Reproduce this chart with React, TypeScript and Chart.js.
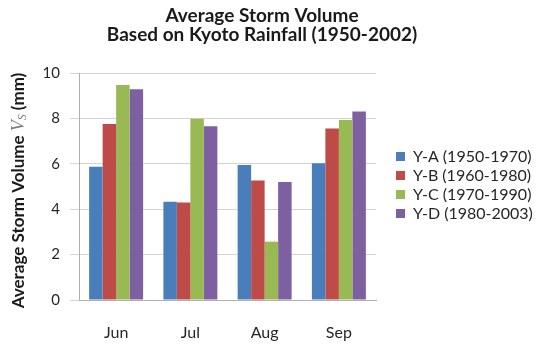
import React, { useEffect, useRef } from "react";
import { Chart, registerables } from "chart.js";

Chart.register(...registerables);

const months = ["Jun", "Jul", "Aug", "Sep"];
const seriesLabels = [
  "Y-A (1950-1970)",
  "Y-B (1960-1980)",
  "Y-C (1970-1990)",
  "Y-D (1980-2003)",
];
const valuesA = [5.87, 4.33, 5.95, 6.02];
const valuesB = [7.75, 4.3, 5.26, 7.56];
const valuesC = [9.47, 7.99, 2.57, 7.93];
const valuesD = [9.28, 7.65, 5.2, 8.3];
const seriesColors = ["#4a7ebb", "#be4b48", "#98b954", "#7d60a0"];
const titleLines = ["Average Storm Volume", "Based on Kyoto Rainfall (1950-2002)"];
const yMin = 0;
const yMax = 10;
const yStep = 2;

const FONT = "Lato, 'Open Sans', sans-serif";

const decorPlugin = {
  id: "decor",
  afterDraw(chart: any) {
    const { ctx, chartArea } = chart;
    // Y axis title with italic V and subscript S
    ctx.save();
    const cy = (chartArea.top + chartArea.bottom) / 2 + 4;
    ctx.translate(19, cy);
    ctx.rotate(-Math.PI / 2);
    ctx.textBaseline = "middle";
    ctx.textAlign = "left";
    const pieces = [
      { t: "Average Storm Volume ", f: `bold 17px ${FONT}`, c: "#1a1a1a", dy: 0 },
      { t: "V", f: "italic 18px 'Liberation Serif', serif", c: "#7a7a7a", dy: 0 },
      { t: "S", f: "italic 12px 'Liberation Serif', serif", c: "#7a7a7a", dy: 4 },
      { t: " (mm)", f: `bold 17px ${FONT}`, c: "#1a1a1a", dy: 0 },
    ];
    let total = 0;
    const widths = pieces.map((p) => {
      ctx.font = p.f;
      const w = ctx.measureText(p.t).width;
      total += w;
      return w;
    });
    let x = -total / 2;
    pieces.forEach((p, i) => {
      ctx.font = p.f;
      ctx.fillStyle = p.c;
      ctx.fillText(p.t, x, p.dy);
      x += widths[i];
    });
    ctx.restore();

    // Legend
    ctx.save();
    const rowGap = 19;
    const boxX = chartArea.right + 20;
    const midY = 185;
    const startY = midY - ((seriesLabels.length - 1) * rowGap) / 2;
    ctx.font = `16px ${FONT}`;
    ctx.textBaseline = "middle";
    ctx.textAlign = "left";
    seriesLabels.forEach((label, i) => {
      const y = startY + i * rowGap;
      ctx.fillStyle = seriesColors[i];
      ctx.fillRect(boxX, y - 4.5, 9, 9);
      ctx.fillStyle = "#262626";
      ctx.fillText(label, boxX + 17, y);
    });
    ctx.restore();
  },
};

export default function App() {
  const canvasRef = useRef<HTMLCanvasElement | null>(null);

  useEffect(() => {
    if (!canvasRef.current) return;
    const seriesValues = [valuesA, valuesB, valuesC, valuesD];
    const chart = new Chart(canvasRef.current, {
      type: "bar",
      data: {
        labels: months,
        datasets: seriesValues.map((vals, i) => ({
          label: seriesLabels[i],
          data: vals,
          backgroundColor: seriesColors[i],
          borderWidth: 0,
          categoryPercentage: 0.727,
          barPercentage: 1.0,
        })),
      },
      options: {
        animation: false,
        responsive: true,
        maintainAspectRatio: false,
        layout: { padding: { left: 0, right: 20, top: 0, bottom: 0 } },
        plugins: {
          legend: { display: false },
          tooltip: { enabled: false },
          title: {
            display: true,
            text: titleLines,
            color: "#1a1a1a",
            font: { family: FONT, size: 19, weight: "bold", lineHeight: 1.0 },
            padding: { top: 6, bottom: 29 },
          },
        },
        scales: {
          x: {
            grid: { display: false, drawTicks: false },
            border: { display: true, color: "#b0b0b0" },
            ticks: { color: "#262626", font: { family: FONT, size: 16 }, padding: 23 },
            afterFit: (s: any) => {
              s.height = 45;
            },
          },
          y: {
            min: yMin,
            max: yMax,
            ticks: {
              stepSize: yStep,
              color: "#262626",
              font: { family: FONT, size: 15 },
              padding: 10,
            },
            grid: { color: "#d4d4d4", tickLength: 9, drawTicks: true },
            border: { display: true, color: "#b0b0b0" },
            afterFit: (s: any) => {
              s.width = 79;
            },
          },
          pad: {
            type: "linear",
            position: "right",
            display: true,
            grid: { display: false, drawTicks: false },
            ticks: { display: false },
            border: { display: false },
            afterFit: (s: any) => {
              s.width = 148;
            },
          },
        },
      },
      plugins: [decorPlugin],
    });
    return () => chart.destroy();
  }, []);

  return (
    <div style={{ position: "absolute", left: 0, top: 0, width: 544, height: 345 }}>
      <canvas ref={canvasRef} />
    </div>
  );
}
